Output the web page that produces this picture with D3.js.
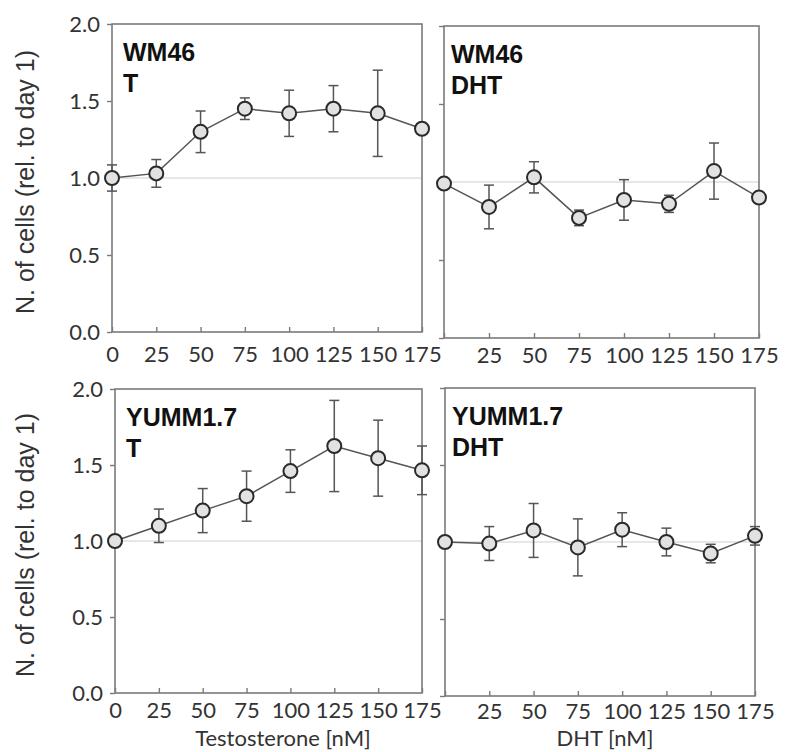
<!DOCTYPE html>
<html>
<head>
<meta charset="utf-8">
<script src="https://cdn.jsdelivr.net/npm/d3@7/dist/d3.min.js"></script>
<style>
  body { margin: 0; background: #fff; }
</style>
</head>
<body>
<svg id="chart" width="788" height="752"></svg>
<script>
// concentrations (nM)
const doses = [0, 25, 50, 75, 100, 125, 150, 175];
const yTicks = [0, 0.5, 1.0, 1.5, 2.0];

// N. of cells relative to day 1, mean and error (half bar length)
const wm46T      = [1.00, 1.03, 1.30, 1.45, 1.42, 1.45, 1.42, 1.32];
const wm46TErr   = [0.085, 0.09, 0.135, 0.07, 0.15, 0.15, 0.28, 0];
const wm46Dht    = [0.99, 0.84, 1.03, 0.77, 0.885, 0.86, 1.07, 0.90];
const wm46DhtErr = [0, 0.14, 0.10, 0.05, 0.13, 0.055, 0.18, 0];
const yummT      = [1.00, 1.10, 1.20, 1.295, 1.46, 1.625, 1.545, 1.465];
const yummTErr   = [0, 0.11, 0.145, 0.165, 0.14, 0.30, 0.25, 0.16];
const yummDht    = [1.00, 0.99, 1.075, 0.965, 1.08, 1.00, 0.925, 1.04];
const yummDhtErr = [0, 0.11, 0.175, 0.185, 0.11, 0.09, 0.06, 0.06];

const panels = [
  { title: ["WM46", "T"], mean: wm46T, err: wm46TErr,
    box: { x0: 112, x1: 422, y0: 24, y1: 332 }, left: true, xTitle: null, pad: 14 },
  { title: ["WM46", "DHT"], mean: wm46Dht, err: wm46DhtErr,
    box: { x0: 444, x1: 759, y0: 26, y1: 338 }, left: false, xTitle: null, pad: 9 },
  { title: ["YUMM1.7", "T"], mean: yummT, err: yummTErr,
    box: { x0: 115, x1: 422, y0: 389, y1: 693 }, left: true, xTitle: "Testosterone [nM]", pad: 9 },
  { title: ["YUMM1.7", "DHT"], mean: yummDht, err: yummDhtErr,
    box: { x0: 445, x1: 755, y0: 388, y1: 696 }, left: false, xTitle: "DHT [nM]", pad: 7 }
];

const svg = d3.select("#chart");
const tickFont = "Lato, 'Open Sans', sans-serif";

panels.forEach(p => {
  const b = p.box;
  const x = d3.scaleLinear().domain([0, 175]).range([b.x0, b.x1]);
  const y = d3.scaleLinear().domain([0, 2]).range([b.y1, b.y0]);
  const g = svg.append("g");

  // reference line at 1.0
  g.append("line")
    .attr("x1", b.x0).attr("x2", b.x1)
    .attr("y1", y(1)).attr("y2", y(1))
    .attr("stroke", "#cfcfcf").attr("stroke-width", 1.2);

  // frame
  g.append("rect")
    .attr("x", b.x0).attr("y", b.y0)
    .attr("width", b.x1 - b.x0).attr("height", b.y1 - b.y0)
    .attr("fill", "none").attr("stroke", "#7a7a7a").attr("stroke-width", 1.6);

  // y axis
  const ya = g.append("g")
    .attr("transform", "translate(" + b.x0 + ",0)")
    .call(d3.axisLeft(y).tickValues(yTicks).tickSize(5).tickPadding(7)
      .tickFormat(p.left ? d3.format(".1f") : () => ""));
  ya.select(".domain").remove();

  // x axis, ticks pointing up
  const xa = g.append("g")
    .attr("transform", "translate(0," + b.y1 + ")")
    .call(d3.axisBottom(x).tickValues(doses).tickSize(-5).tickPadding(p.pad)
      .tickFormat(d => (!p.left && d === 0) ? "" : d));
  xa.select(".domain").remove();

  [ya, xa].forEach(a => {
    a.selectAll(".tick line").attr("stroke", "#7a7a7a").attr("stroke-width", 1.4);
    a.selectAll(".tick text")
      .attr("fill", "#333")
      .style("font-family", tickFont)
      .style("font-size", "22px");
  });

  const pts = doses.map((d, i) => ({ x: d, m: p.mean[i], e: p.err[i] }));

  // connecting line
  g.append("path")
    .datum(pts)
    .attr("fill", "none")
    .attr("stroke", "#555")
    .attr("stroke-width", 1.5)
    .attr("d", d3.line().x(d => x(d.x)).y(d => y(d.m)));

  // error bars
  const eb = g.selectAll(".eb").data(pts.filter(d => d.e > 0)).enter().append("g");
  eb.append("line")
    .attr("x1", d => x(d.x)).attr("x2", d => x(d.x))
    .attr("y1", d => y(d.m - d.e)).attr("y2", d => y(d.m + d.e))
    .attr("stroke", "#555").attr("stroke-width", 1.5);
  [-1, 1].forEach(s => {
    eb.append("line")
      .attr("x1", d => x(d.x) - 5).attr("x2", d => x(d.x) + 5)
      .attr("y1", d => y(d.m + s * d.e)).attr("y2", d => y(d.m + s * d.e))
      .attr("stroke", "#555").attr("stroke-width", 1.5);
  });

  // markers
  g.selectAll(".dot").data(pts).enter().append("circle")
    .attr("cx", d => x(d.x)).attr("cy", d => y(d.m))
    .attr("r", 7)
    .attr("fill", "#e2e2e2")
    .attr("stroke", "#2a2a2a")
    .attr("stroke-width", 2);

  // panel title
  const t = g.append("text")
    .attr("x", b.x0 + (p.left ? 11 : 7))
    .attr("y", b.y0 + 37)
    .attr("fill", "#111")
    .style("font-family", "'Liberation Sans', Arial, sans-serif")
    .style("font-weight", "bold")
    .style("font-size", "25px");
  p.title.forEach((s, i) => {
    t.append("tspan").attr("x", b.x0 + (p.left ? 11 : 7)).attr("dy", i === 0 ? 0 : 31).text(s);
  });

  // y axis title
  if (p.left) {
    svg.append("text")
      .attr("transform", "translate(34," + ((b.y0 + b.y1) / 2 + 4) + ") rotate(-90)")
      .attr("text-anchor", "middle")
      .attr("fill", "#333")
      .style("font-family", "'Liberation Sans', Arial, sans-serif")
      .style("font-size", "25px")
      .text("N. of cells (rel. to day 1)");
  }

  // x axis title
  if (p.xTitle) {
    svg.append("text")
      .attr("x", p.left ? 283 : 605)
      .attr("y", 746)
      .attr("text-anchor", "middle")
      .attr("fill", "#333")
      .style("font-family", tickFont)
      .style("font-size", "22px")
      .text(p.xTitle);
  }
});
</script>
</body>
</html>
